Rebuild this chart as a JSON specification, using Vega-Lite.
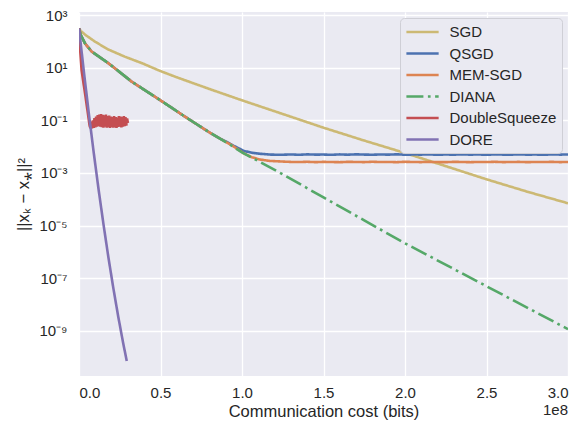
{
  "$schema": "https://vega.github.io/schema/vega-lite/v6.json",
  "width": 489,
  "height": 364,
  "autosize": {"type": "none"},
  "padding": {"left": 79, "top": 12, "right": 14, "bottom": 55},
  "background": "white",
  "title": {"text": "1e8", "orient": "bottom", "anchor": "end", "fontSize": 15, "fontWeight": "normal", "font": "Liberation Sans", "color": "#262626", "offset": -17},
  "data": {"values": [
    {"method": "SGD", "bits": 0, "err": 309},
    {"method": "SGD", "bits": 1000000, "err": 251},
    {"method": "SGD", "bits": 4000000, "err": 174},
    {"method": "SGD", "bits": 10000000, "err": 95.5},
    {"method": "SGD", "bits": 18000000, "err": 49.0},
    {"method": "SGD", "bits": 28000000, "err": 26.3},
    {"method": "SGD", "bits": 39000000, "err": 14.5},
    {"method": "SGD", "bits": 50000000, "err": 7.4},
    {"method": "SGD", "bits": 60000000, "err": 4.3},
    {"method": "SGD", "bits": 80000000, "err": 1.55},
    {"method": "SGD", "bits": 100000000, "err": 0.575},
    {"method": "SGD", "bits": 125000000, "err": 0.174},
    {"method": "SGD", "bits": 150000000, "err": 0.0525},
    {"method": "SGD", "bits": 175000000, "err": 0.0170},
    {"method": "SGD", "bits": 200000000, "err": 0.00575},
    {"method": "SGD", "bits": 225000000, "err": 0.00182},
    {"method": "SGD", "bits": 250000000, "err": 0.000575},
    {"method": "SGD", "bits": 275000000, "err": 0.000195},
    {"method": "SGD", "bits": 300000000, "err": 0.0000708},

    {"method": "QSGD", "bits": 0, "err": 309},
    {"method": "QSGD", "bits": 1000000, "err": 178},
    {"method": "QSGD", "bits": 3700000, "err": 83.2},
    {"method": "QSGD", "bits": 7800000, "err": 40.7},
    {"method": "QSGD", "bits": 18000000, "err": 14.8},
    {"method": "QSGD", "bits": 25000000, "err": 6.76},
    {"method": "QSGD", "bits": 32300000, "err": 2.95},
    {"method": "QSGD", "bits": 41000000, "err": 1.32},
    {"method": "QSGD", "bits": 49700000, "err": 0.589},
    {"method": "QSGD", "bits": 57000000, "err": 0.295},
    {"method": "QSGD", "bits": 65000000, "err": 0.138},
    {"method": "QSGD", "bits": 72000000, "err": 0.0724},
    {"method": "QSGD", "bits": 79300000, "err": 0.0372},
    {"method": "QSGD", "bits": 86000000, "err": 0.0209},
    {"method": "QSGD", "bits": 90000000, "err": 0.01585},
    {"method": "QSGD", "bits": 95000000, "err": 0.01072},
    {"method": "QSGD", "bits": 101000000, "err": 0.00692},
    {"method": "QSGD", "bits": 106000000, "err": 0.00589},
    {"method": "QSGD", "bits": 111000000, "err": 0.00537},
    {"method": "QSGD", "bits": 117000000, "err": 0.00501},
    {"method": "QSGD", "bits": 123000000, "err": 0.00490},
    {"method": "QSGD", "bits": 130000000, "err": 0.00505},
    {"method": "QSGD", "bits": 135000000, "err": 0.00492},
    {"method": "QSGD", "bits": 140000000, "err": 0.00510},
    {"method": "QSGD", "bits": 145000000, "err": 0.00498},
    {"method": "QSGD", "bits": 150000000, "err": 0.00502},
    {"method": "QSGD", "bits": 155000000, "err": 0.00490},
    {"method": "QSGD", "bits": 160000000, "err": 0.00508},
    {"method": "QSGD", "bits": 165000000, "err": 0.00495},
    {"method": "QSGD", "bits": 170000000, "err": 0.00512},
    {"method": "QSGD", "bits": 175000000, "err": 0.00500},
    {"method": "QSGD", "bits": 180000000, "err": 0.00493},
    {"method": "QSGD", "bits": 185000000, "err": 0.00506},
    {"method": "QSGD", "bits": 190000000, "err": 0.00497},
    {"method": "QSGD", "bits": 195000000, "err": 0.00511},
    {"method": "QSGD", "bits": 200000000, "err": 0.00494},
    {"method": "QSGD", "bits": 205000000, "err": 0.00503},
    {"method": "QSGD", "bits": 210000000, "err": 0.00499},
    {"method": "QSGD", "bits": 215000000, "err": 0.00509},
    {"method": "QSGD", "bits": 220000000, "err": 0.00491},
    {"method": "QSGD", "bits": 225000000, "err": 0.00504},
    {"method": "QSGD", "bits": 230000000, "err": 0.00496},
    {"method": "QSGD", "bits": 235000000, "err": 0.00510},
    {"method": "QSGD", "bits": 240000000, "err": 0.00498},
    {"method": "QSGD", "bits": 245000000, "err": 0.00505},
    {"method": "QSGD", "bits": 250000000, "err": 0.00493},
    {"method": "QSGD", "bits": 255000000, "err": 0.00507},
    {"method": "QSGD", "bits": 260000000, "err": 0.00500},
    {"method": "QSGD", "bits": 265000000, "err": 0.00495},
    {"method": "QSGD", "bits": 270000000, "err": 0.00512},
    {"method": "QSGD", "bits": 275000000, "err": 0.00497},
    {"method": "QSGD", "bits": 280000000, "err": 0.00503},
    {"method": "QSGD", "bits": 285000000, "err": 0.00492},
    {"method": "QSGD", "bits": 290000000, "err": 0.00508},
    {"method": "QSGD", "bits": 295000000, "err": 0.00499},
    {"method": "QSGD", "bits": 300000000, "err": 0.00504},

    {"method": "MEM-SGD", "bits": 0, "err": 309},
    {"method": "MEM-SGD", "bits": 1000000, "err": 178},
    {"method": "MEM-SGD", "bits": 3700000, "err": 83.2},
    {"method": "MEM-SGD", "bits": 7800000, "err": 40.7},
    {"method": "MEM-SGD", "bits": 18000000, "err": 14.8},
    {"method": "MEM-SGD", "bits": 25000000, "err": 6.76},
    {"method": "MEM-SGD", "bits": 32300000, "err": 2.95},
    {"method": "MEM-SGD", "bits": 41000000, "err": 1.32},
    {"method": "MEM-SGD", "bits": 49700000, "err": 0.589},
    {"method": "MEM-SGD", "bits": 57000000, "err": 0.295},
    {"method": "MEM-SGD", "bits": 65000000, "err": 0.138},
    {"method": "MEM-SGD", "bits": 72000000, "err": 0.0724},
    {"method": "MEM-SGD", "bits": 79300000, "err": 0.0372},
    {"method": "MEM-SGD", "bits": 86000000, "err": 0.0209},
    {"method": "MEM-SGD", "bits": 93600000, "err": 0.01148},
    {"method": "MEM-SGD", "bits": 101000000, "err": 0.00562},
    {"method": "MEM-SGD", "bits": 106000000, "err": 0.00398},
    {"method": "MEM-SGD", "bits": 111000000, "err": 0.00324},
    {"method": "MEM-SGD", "bits": 117000000, "err": 0.00288},
    {"method": "MEM-SGD", "bits": 123000000, "err": 0.00275},
    {"method": "MEM-SGD", "bits": 130000000, "err": 0.00263},
    {"method": "MEM-SGD", "bits": 135000000, "err": 0.00260},
    {"method": "MEM-SGD", "bits": 140000000, "err": 0.00266},
    {"method": "MEM-SGD", "bits": 145000000, "err": 0.00258},
    {"method": "MEM-SGD", "bits": 150000000, "err": 0.00264},
    {"method": "MEM-SGD", "bits": 155000000, "err": 0.00261},
    {"method": "MEM-SGD", "bits": 160000000, "err": 0.00257},
    {"method": "MEM-SGD", "bits": 165000000, "err": 0.00265},
    {"method": "MEM-SGD", "bits": 170000000, "err": 0.00262},
    {"method": "MEM-SGD", "bits": 175000000, "err": 0.00259},
    {"method": "MEM-SGD", "bits": 180000000, "err": 0.00267},
    {"method": "MEM-SGD", "bits": 185000000, "err": 0.00260},
    {"method": "MEM-SGD", "bits": 190000000, "err": 0.00263},
    {"method": "MEM-SGD", "bits": 195000000, "err": 0.00257},
    {"method": "MEM-SGD", "bits": 200000000, "err": 0.00266},
    {"method": "MEM-SGD", "bits": 205000000, "err": 0.00261},
    {"method": "MEM-SGD", "bits": 210000000, "err": 0.00259},
    {"method": "MEM-SGD", "bits": 215000000, "err": 0.00264},
    {"method": "MEM-SGD", "bits": 220000000, "err": 0.00260},
    {"method": "MEM-SGD", "bits": 225000000, "err": 0.00258},
    {"method": "MEM-SGD", "bits": 230000000, "err": 0.00265},
    {"method": "MEM-SGD", "bits": 235000000, "err": 0.00262},
    {"method": "MEM-SGD", "bits": 240000000, "err": 0.00257},
    {"method": "MEM-SGD", "bits": 245000000, "err": 0.00263},
    {"method": "MEM-SGD", "bits": 250000000, "err": 0.00260},
    {"method": "MEM-SGD", "bits": 255000000, "err": 0.00266},
    {"method": "MEM-SGD", "bits": 260000000, "err": 0.00259},
    {"method": "MEM-SGD", "bits": 265000000, "err": 0.00261},
    {"method": "MEM-SGD", "bits": 270000000, "err": 0.00264},
    {"method": "MEM-SGD", "bits": 275000000, "err": 0.00258},
    {"method": "MEM-SGD", "bits": 280000000, "err": 0.00262},
    {"method": "MEM-SGD", "bits": 285000000, "err": 0.00260},
    {"method": "MEM-SGD", "bits": 290000000, "err": 0.00265},
    {"method": "MEM-SGD", "bits": 295000000, "err": 0.00259},
    {"method": "MEM-SGD", "bits": 300000000, "err": 0.00262},

    {"method": "DIANA", "bits": 0, "err": 309},
    {"method": "DIANA", "bits": 1000000, "err": 178},
    {"method": "DIANA", "bits": 3700000, "err": 83.2},
    {"method": "DIANA", "bits": 7800000, "err": 40.7},
    {"method": "DIANA", "bits": 18000000, "err": 14.8},
    {"method": "DIANA", "bits": 25000000, "err": 6.76},
    {"method": "DIANA", "bits": 32300000, "err": 2.95},
    {"method": "DIANA", "bits": 41000000, "err": 1.32},
    {"method": "DIANA", "bits": 49700000, "err": 0.589},
    {"method": "DIANA", "bits": 57000000, "err": 0.295},
    {"method": "DIANA", "bits": 65000000, "err": 0.138},
    {"method": "DIANA", "bits": 72000000, "err": 0.0724},
    {"method": "DIANA", "bits": 79300000, "err": 0.0372},
    {"method": "DIANA", "bits": 86000000, "err": 0.0209},
    {"method": "DIANA", "bits": 93600000, "err": 0.01096},
    {"method": "DIANA", "bits": 100000000, "err": 0.00603},
    {"method": "DIANA", "bits": 108000000, "err": 0.00331},
    {"method": "DIANA", "bits": 125000000, "err": 0.000891},
    {"method": "DIANA", "bits": 150000000, "err": 0.0001175},
    {"method": "DIANA", "bits": 175000000, "err": 0.00001585},
    {"method": "DIANA", "bits": 200000000, "err": 0.00000214},
    {"method": "DIANA", "bits": 250000000, "err": 5.01e-8},
    {"method": "DIANA", "bits": 300000000, "err": 1.175e-9},

    {"method": "DoubleSqueeze", "bits": 0, "err": 309},
    {"method": "DoubleSqueeze", "bits": 800000, "err": 39.8},
    {"method": "DoubleSqueeze", "bits": 1600000, "err": 7.94},
    {"method": "DoubleSqueeze", "bits": 4000000, "err": 0.794},
    {"method": "DoubleSqueeze", "bits": 6500000, "err": 0.0631},
    {"method": "DoubleSqueeze", "bits": 7000000, "err": 0.0501},
    {"method": "DoubleSqueeze", "bits": 7500000, "err": 0.0891},
    {"method": "DoubleSqueeze", "bits": 8000000, "err": 0.0490},
    {"method": "DoubleSqueeze", "bits": 8500000, "err": 0.1000},
    {"method": "DoubleSqueeze", "bits": 9000000, "err": 0.0513},
    {"method": "DoubleSqueeze", "bits": 9500000, "err": 0.1202},
    {"method": "DoubleSqueeze", "bits": 10000000, "err": 0.0537},
    {"method": "DoubleSqueeze", "bits": 10500000, "err": 0.1380},
    {"method": "DoubleSqueeze", "bits": 11000000, "err": 0.0575},
    {"method": "DoubleSqueeze", "bits": 11500000, "err": 0.1585},
    {"method": "DoubleSqueeze", "bits": 12000000, "err": 0.0603},
    {"method": "DoubleSqueeze", "bits": 12500000, "err": 0.1660},
    {"method": "DoubleSqueeze", "bits": 13000000, "err": 0.0575},
    {"method": "DoubleSqueeze", "bits": 13500000, "err": 0.1738},
    {"method": "DoubleSqueeze", "bits": 14000000, "err": 0.0550},
    {"method": "DoubleSqueeze", "bits": 14500000, "err": 0.1622},
    {"method": "DoubleSqueeze", "bits": 15000000, "err": 0.0525},
    {"method": "DoubleSqueeze", "bits": 15500000, "err": 0.1549},
    {"method": "DoubleSqueeze", "bits": 16000000, "err": 0.0575},
    {"method": "DoubleSqueeze", "bits": 16500000, "err": 0.1660},
    {"method": "DoubleSqueeze", "bits": 17000000, "err": 0.0525},
    {"method": "DoubleSqueeze", "bits": 17500000, "err": 0.1445},
    {"method": "DoubleSqueeze", "bits": 18000000, "err": 0.0550},
    {"method": "DoubleSqueeze", "bits": 18500000, "err": 0.1514},
    {"method": "DoubleSqueeze", "bits": 19000000, "err": 0.0513},
    {"method": "DoubleSqueeze", "bits": 19500000, "err": 0.1380},
    {"method": "DoubleSqueeze", "bits": 20000000, "err": 0.0550},
    {"method": "DoubleSqueeze", "bits": 20500000, "err": 0.1318},
    {"method": "DoubleSqueeze", "bits": 21000000, "err": 0.0525},
    {"method": "DoubleSqueeze", "bits": 21500000, "err": 0.1445},
    {"method": "DoubleSqueeze", "bits": 22000000, "err": 0.0537},
    {"method": "DoubleSqueeze", "bits": 22500000, "err": 0.1318},
    {"method": "DoubleSqueeze", "bits": 23000000, "err": 0.0513},
    {"method": "DoubleSqueeze", "bits": 23500000, "err": 0.1259},
    {"method": "DoubleSqueeze", "bits": 24000000, "err": 0.0562},
    {"method": "DoubleSqueeze", "bits": 24500000, "err": 0.1445},
    {"method": "DoubleSqueeze", "bits": 25000000, "err": 0.0575},
    {"method": "DoubleSqueeze", "bits": 25500000, "err": 0.1380},
    {"method": "DoubleSqueeze", "bits": 26000000, "err": 0.0537},
    {"method": "DoubleSqueeze", "bits": 26500000, "err": 0.1318},
    {"method": "DoubleSqueeze", "bits": 27000000, "err": 0.0575},
    {"method": "DoubleSqueeze", "bits": 27500000, "err": 0.1445},
    {"method": "DoubleSqueeze", "bits": 28000000, "err": 0.0603},
    {"method": "DoubleSqueeze", "bits": 28500000, "err": 0.1318},
    {"method": "DoubleSqueeze", "bits": 29000000, "err": 0.0631},
    {"method": "DoubleSqueeze", "bits": 29500000, "err": 0.1175},
    {"method": "DoubleSqueeze", "bits": 30000000, "err": 0.0794},

    {"method": "DORE", "bits": 0, "err": 309},
    {"method": "DORE", "bits": 3000000, "err": 6.92},
    {"method": "DORE", "bits": 6000000, "err": 0.188},
    {"method": "DORE", "bits": 9000000, "err": 0.00615},
    {"method": "DORE", "bits": 12000000, "err": 0.000240},
    {"method": "DORE", "bits": 15000000, "err": 0.00001148},
    {"method": "DORE", "bits": 18000000, "err": 6.46e-7},
    {"method": "DORE", "bits": 21000000, "err": 4.47e-8},
    {"method": "DORE", "bits": 24000000, "err": 3.72e-9},
    {"method": "DORE", "bits": 27000000, "err": 3.72e-10},
    {"method": "DORE", "bits": 29300000, "err": 7.24e-11}
  ]},
  "encoding": {
    "x": {
      "field": "bits", "type": "quantitative",
      "scale": {"domain": [0, 300000000], "nice": false, "zero": false},
      "axis": {
        "title": "Communication cost (bits)",
        "values": [0, 50000000, 100000000, 150000000, 200000000, 250000000, 300000000],
        "labelExpr": "format(datum.value / 100000000, '.1f')",
        "labelPadding": 9,
        "titlePadding": 3
      }
    },
    "y": {
      "field": "err", "type": "quantitative",
      "scale": {"type": "log", "domain": [1.95e-11, 1300], "nice": false},
      "axis": {
        "title": "||xₖ − x⁎||²",
        "values": [1000, 10, 0.1, 0.001, 0.00001, 1e-7, 1e-9],
        "labelExpr": "'10' + replace(replace(replace(replace(replace(replace(replace('' + round(log(datum.value) / LN10), '-', '⁻'), '1', '¹'), '3', '³'), '5', '⁵'), '7', '⁷'), '9', '⁹'), '0', '⁰')",
        "labelPadding": 12,
        "titlePadding": 7
      }
    },
    "color": {
      "field": "method", "type": "nominal",
      "scale": {
        "domain": ["SGD", "QSGD", "MEM-SGD", "DIANA", "DoubleSqueeze", "DORE"],
        "range": ["#ccb974", "#4c72b0", "#dd8452", "#55a868", "#c44e52", "#8172b3"]
      },
      "legend": {"title": null}
    },
    "strokeDash": {
      "field": "method", "type": "nominal",
      "scale": {
        "domain": ["SGD", "QSGD", "MEM-SGD", "DIANA", "DoubleSqueeze", "DORE"],
        "range": [[1, 0], [1, 0], [1, 0], [17, 4.5, 2.7, 4.5], [1, 0], [1, 0]]
      },
      "legend": {"title": null}
    }
  },
  "layer": [
    {"transform": [{"filter": "datum.method === 'SGD'"}], "mark": {"type": "line", "strokeWidth": 2.6, "clip": true}},
    {"transform": [{"filter": "datum.method === 'QSGD'"}], "mark": {"type": "line", "strokeWidth": 2.6, "clip": true}},
    {"transform": [{"filter": "datum.method === 'MEM-SGD'"}], "mark": {"type": "line", "strokeWidth": 2.6, "clip": true}},
    {"transform": [{"filter": "datum.method === 'DIANA'"}], "mark": {"type": "line", "strokeWidth": 2.6, "clip": true}},
    {"transform": [{"filter": "datum.method === 'DoubleSqueeze'"}], "mark": {"type": "line", "strokeWidth": 2.6, "clip": true}},
    {"transform": [{"filter": "datum.method === 'DORE'"}], "mark": {"type": "line", "strokeWidth": 2.6, "clip": true}}
  ],
  "config": {
    "view": {"fill": "#eaeaf2", "stroke": null},
    "font": "Liberation Sans",
    "axis": {
      "domain": false,
      "ticks": false,
      "grid": true,
      "gridColor": "#ffffff",
      "gridWidth": 1.3,
      "labelFont": "Liberation Sans",
      "labelFontSize": 15,
      "labelColor": "#262626",
      "titleFont": "Liberation Sans",
      "titleFontSize": 16.5,
      "titleFontWeight": "normal",
      "titleColor": "#262626"
    },
    "legend": {
      "orient": "top-right",
      "offset": 6,
      "fillColor": "#eaeaf2",
      "strokeColor": "#cfcfd6",
      "cornerRadius": 4,
      "padding": 5,
      "symbolType": "M-0.68,0H3.62",
      "symbolSize": 225,
      "symbolOffset": -2.5,
      "symbolStrokeWidth": 2.6,
      "labelFont": "Liberation Sans",
      "labelFontSize": 15,
      "labelColor": "#262626",
      "labelOffset": 29,
      "rowPadding": 4.5
    }
  }
}
